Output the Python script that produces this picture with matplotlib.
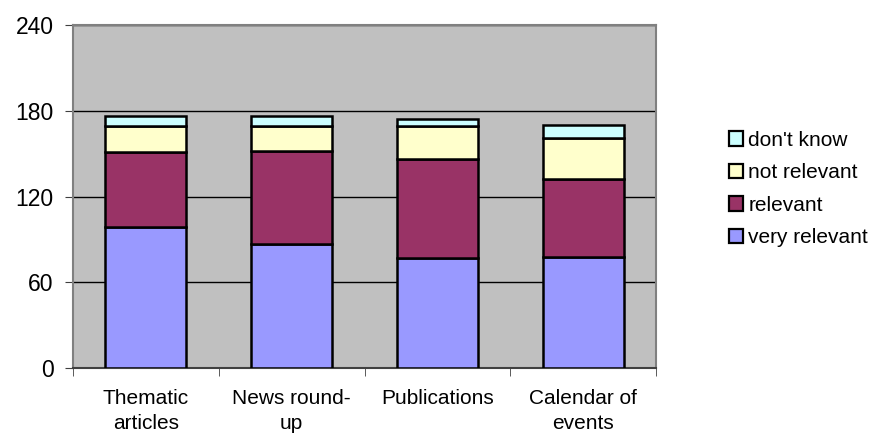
import numpy as np
import matplotlib.pyplot as plt
from matplotlib.patches import Patch

categories = ['Thematic\narticles', 'News round-\nup', 'Publications', 'Calendar of\nevents']
very_relevant = [99, 87, 77, 78]
relevant = [52, 65, 69, 54]
not_relevant = [18, 17, 23, 29]
dont_know = [7, 7, 5, 9]

series = [('very relevant', very_relevant, '#9999FF'),
          ('relevant', relevant, '#993366'),
          ('not relevant', not_relevant, '#FFFFCC'),
          ("don't know", dont_know, '#CCFFFF')]

plt.rcParams['font.family'] = ['Liberation Sans', 'DejaVu Sans']
fig = plt.figure(figsize=(8.69, 4.34), dpi=100)
ax = fig.add_axes([73/869, 1-368/434, (656-73)/869, (368-25)/434])
ax.set_facecolor('#C0C0C0')

x = np.arange(len(categories))
bottom = np.zeros(len(categories))
for name, vals, col in series:
    ax.bar(x, vals, 0.556, bottom=bottom, color=col, edgecolor='black', linewidth=1.8, zorder=3)
    bottom += np.array(vals)

ax.set_xlim(-0.5, len(categories)-0.5)
ax.set_ylim(0, 240)
ax.set_yticks([0, 60, 120, 180, 240])
ax.yaxis.grid(True, color='black', linewidth=1, zorder=1)
ax.tick_params(axis='y', labelsize=16.5, length=6, pad=8, direction='out', color='#404040')
ax.set_xticks(x)
ax.set_xticklabels(categories, fontsize=15, linespacing=1.4, va='top')
ax.tick_params(axis='x', length=0, pad=15)
ax.set_xticks(np.arange(-0.5, len(categories)), minor=True)
ax.tick_params(axis='x', which='minor', length=6, color='#404040')
for s in ['top', 'right', 'left']:
    ax.spines[s].set_color('#808080')
    ax.spines[s].set_linewidth(1.5)
ax.spines['bottom'].set_color('#404040')
ax.spines['bottom'].set_linewidth(1.5)

handles = [Patch(facecolor=col, edgecolor='black', linewidth=1.6, label=name)
           for name, vals, col in series[::-1]]
fig.legend(handles=handles, loc='center left', bbox_to_anchor=(729/869, 1-189/434),
           frameon=False, fontsize=15, handlelength=0.68, handleheight=0.68,
           handletextpad=0.25, labelspacing=0.65, borderaxespad=0, borderpad=0)

fig.savefig('out.png', dpi=100)
